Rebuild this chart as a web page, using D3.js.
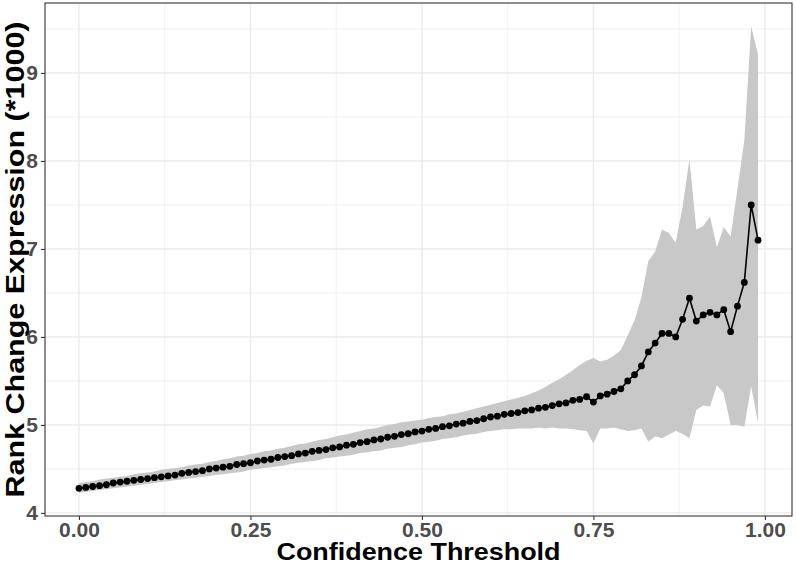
<!DOCTYPE html>
<html>
<head>
<meta charset="utf-8">
<script src="https://cdn.jsdelivr.net/npm/d3@7"></script>
<style>
  body { margin: 0; background: #fff; }
  text { font-family: "Liberation Sans", Arial, sans-serif; font-weight: bold; }
</style>
</head>
<body>
<svg id="chart" width="796" height="565"></svg>
<script>
// confidence thresholds 0.00 .. 0.99
const thresholds = d3.range(100).map(i => i / 100)

// mean rank change (*1000) per threshold
const meanValues = [
  4.28, 4.29, 4.30, 4.31, 4.32, 4.34, 4.35, 4.36, 4.37, 4.38,
  4.39, 4.40, 4.41, 4.42, 4.43, 4.45, 4.46, 4.47, 4.48, 4.50,
  4.51, 4.52, 4.53, 4.55, 4.56, 4.57, 4.59, 4.60, 4.61, 4.63,
  4.64, 4.65, 4.67, 4.68, 4.70, 4.71, 4.72, 4.74, 4.75, 4.77,
  4.78, 4.80, 4.81, 4.83, 4.84, 4.86, 4.87, 4.89, 4.90, 4.92,
  4.93, 4.95, 4.96, 4.98, 4.99, 5.01, 5.02, 5.04, 5.05, 5.07,
  5.09, 5.10, 5.12, 5.13, 5.14, 5.16, 5.17, 5.19, 5.20, 5.22,
  5.24, 5.25, 5.28, 5.29, 5.32, 5.26, 5.33, 5.35, 5.38, 5.41,
  5.50, 5.57, 5.67, 5.83, 5.93, 6.04, 6.04, 6.00, 6.20, 6.44,
  6.18, 6.25, 6.28, 6.25, 6.31, 6.06, 6.35, 6.62, 7.50, 7.10
]

// lower edge of the grey band
const lowerValues = [
  4.23, 4.24, 4.25, 4.26, 4.27, 4.28, 4.29, 4.30, 4.31, 4.32,
  4.33, 4.34, 4.35, 4.36, 4.37, 4.38, 4.39, 4.40, 4.41, 4.42,
  4.43, 4.44, 4.45, 4.46, 4.47, 4.49, 4.50, 4.51, 4.52, 4.53,
  4.54, 4.56, 4.57, 4.58, 4.59, 4.60, 4.62, 4.63, 4.64, 4.65,
  4.66, 4.68, 4.69, 4.70, 4.71, 4.73, 4.74, 4.75, 4.77, 4.78,
  4.80, 4.81, 4.82, 4.84, 4.85, 4.86, 4.88, 4.89, 4.90, 4.92,
  4.93, 4.94, 4.95, 4.95, 4.96, 4.96, 4.96, 4.97, 4.96, 4.97,
  4.96, 4.96, 4.95, 4.94, 4.93, 4.79, 4.96, 4.96, 4.97, 4.95,
  4.93, 4.94, 4.96, 4.81, 4.87, 4.85, 4.89, 4.93, 4.90, 4.85,
  5.17, 5.22, 5.21, 5.45, 5.36, 5.00, 5.00, 4.98, 5.44, 5.02
]

// upper edge of the grey band
const upperValues = [
  4.34, 4.35, 4.36, 4.38, 4.39, 4.40, 4.41, 4.42, 4.44, 4.45,
  4.46, 4.47, 4.49, 4.50, 4.51, 4.52, 4.54, 4.55, 4.56, 4.58,
  4.59, 4.61, 4.62, 4.64, 4.65, 4.67, 4.68, 4.70, 4.71, 4.73,
  4.74, 4.76, 4.78, 4.79, 4.81, 4.83, 4.84, 4.86, 4.88, 4.89,
  4.91, 4.93, 4.95, 4.96, 4.98, 5.00, 5.01, 5.03, 5.04, 5.05,
  5.06, 5.08, 5.09, 5.10, 5.12, 5.13, 5.15, 5.17, 5.19, 5.21,
  5.23, 5.25, 5.27, 5.29, 5.31, 5.33, 5.36, 5.39, 5.43, 5.48,
  5.52, 5.57, 5.62, 5.68, 5.73, 5.76, 5.72, 5.74, 5.79, 5.85,
  6.02, 6.19, 6.45, 6.86, 6.97, 7.22, 7.18, 7.07, 7.48, 8.02,
  7.22, 7.26, 7.37, 7.02, 7.25, 7.14, 7.68, 8.24, 9.53, 9.21
]

const xTicks = [0, 0.25, 0.5, 0.75, 1]
const yTicks = [4, 5, 6, 7, 8, 9]

const data = thresholds.map((t, i) => ({
  t: t, mean: meanValues[i], lo: lowerValues[i], hi: upperValues[i]
}))

// panel box
const panel = { left: 45, right: 792, top: 3, bottom: 516 }

// ggplot-like 5% expansion
const expand = (lo, hi) => { const r = hi - lo; return [lo - 0.05 * r, hi + 0.05 * r] }

const x = d3.scaleLinear()
  .domain(expand(d3.min(thresholds), d3.max(thresholds)))
  .range([panel.left, panel.right])

const y = d3.scaleLinear()
  .domain(expand(d3.min(lowerValues), d3.max(upperValues)))
  .range([panel.bottom, panel.top])

const svg = d3.select('#chart')

// grid lines, minor first
const xMinor = d3.pairs(xTicks).map(p => (p[0] + p[1]) / 2)
const yMinor = d3.range(3.5, 10, 1).filter(v => v > y.domain()[0] && v < y.domain()[1])

const grid = svg.append('g').attr('class', 'grid')
grid.selectAll('.xminor').data(xMinor).enter().append('line')
  .attr('x1', d => x(d)).attr('x2', d => x(d))
  .attr('y1', panel.top).attr('y2', panel.bottom)
  .attr('stroke', '#f2f2f2').attr('stroke-width', 1)
grid.selectAll('.yminor').data(yMinor).enter().append('line')
  .attr('y1', d => y(d)).attr('y2', d => y(d))
  .attr('x1', panel.left).attr('x2', panel.right)
  .attr('stroke', '#f2f2f2').attr('stroke-width', 1)
grid.selectAll('.xmajor').data(xTicks).enter().append('line')
  .attr('x1', d => x(d)).attr('x2', d => x(d))
  .attr('y1', panel.top).attr('y2', panel.bottom)
  .attr('stroke', '#ebebeb').attr('stroke-width', 1.4)
grid.selectAll('.ymajor').data(yTicks).enter().append('line')
  .attr('y1', d => y(d)).attr('y2', d => y(d))
  .attr('x1', panel.left).attr('x2', panel.right)
  .attr('stroke', '#ebebeb').attr('stroke-width', 1.4)

// ribbon
const area = d3.area()
  .x(d => x(d.t))
  .y0(d => y(d.lo))
  .y1(d => y(d.hi))
svg.append('path').datum(data)
  .attr('d', area)
  .attr('fill', '#c8c8c8')

// mean line + points
const line = d3.line().x(d => x(d.t)).y(d => y(d.mean))
svg.append('path').datum(data)
  .attr('d', line)
  .attr('fill', 'none')
  .attr('stroke', '#000')
  .attr('stroke-width', 1.6)

svg.selectAll('.pt').data(data).enter().append('circle')
  .attr('class', 'pt')
  .attr('cx', d => x(d.t))
  .attr('cy', d => y(d.mean))
  .attr('r', 3.4)
  .attr('fill', '#000')

// panel border
svg.append('rect')
  .attr('x', panel.left).attr('y', panel.top)
  .attr('width', panel.right - panel.left)
  .attr('height', panel.bottom - panel.top)
  .attr('fill', 'none')
  .attr('stroke', '#333')
  .attr('stroke-width', 1.1)

// axes
const xAxis = d3.axisBottom(x).tickValues(xTicks).tickFormat(d3.format('.2f')).tickSize(4).tickPadding(2)
const gx = svg.append('g')
  .attr('transform', `translate(0,${panel.bottom})`)
  .call(xAxis)
const yAxis = d3.axisLeft(y).tickValues(yTicks).tickFormat(d3.format('d')).tickSize(4).tickPadding(3)
const gy = svg.append('g')
  .attr('transform', `translate(${panel.left},0)`)
  .call(yAxis)

for (const g of [gx, gy]) {
  g.select('.domain').remove()
  g.selectAll('.tick line').attr('stroke', '#333').attr('stroke-width', 1.1)
  g.selectAll('.tick text')
    .attr('fill', '#4d4d4d')
    .style('font-size', '21px')
    .style('font-family', '"Liberation Sans", Arial, sans-serif')
    .style('font-weight', 'bold')
}

// axis titles
svg.append('text')
  .attr('x', (panel.left + panel.right) / 2)
  .attr('y', 560)
  .attr('text-anchor', 'middle')
  .attr('textLength', 284)
  .attr('lengthAdjust', 'spacingAndGlyphs')
  .style('font-size', '24px')
  .attr('fill', '#000')
  .text('Confidence Threshold')

svg.append('text')
  .attr('transform', `translate(24,${(panel.top + panel.bottom) / 2}) rotate(-90)`)
  .attr('text-anchor', 'middle')
  .attr('textLength', 476)
  .attr('lengthAdjust', 'spacingAndGlyphs')
  .style('font-size', '25px')
  .attr('fill', '#000')
  .text('Rank Change Expression (*1000)')
</script>
</body>
</html>
